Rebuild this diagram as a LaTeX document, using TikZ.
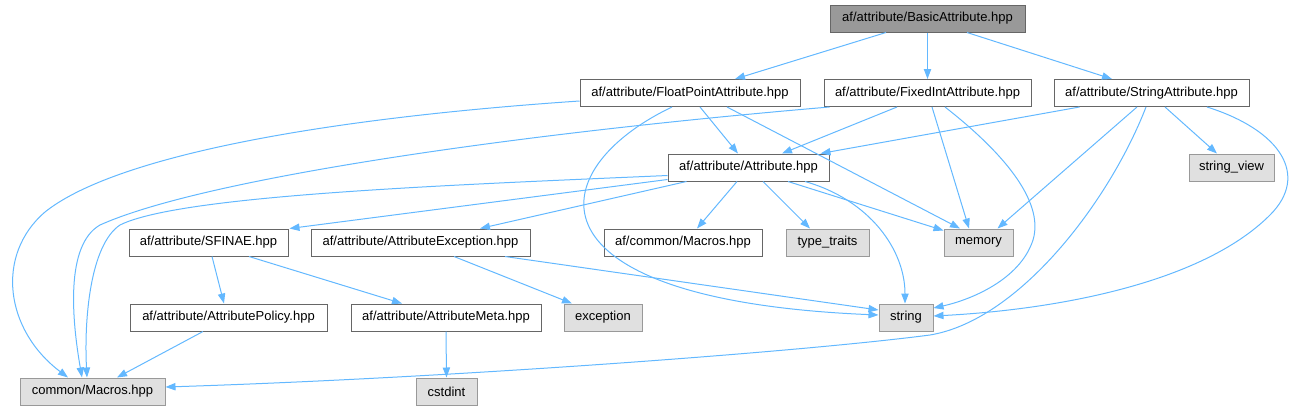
\documentclass[tikz,border=0pt]{standalone}
\usepackage{fontspec}
\setmainfont{Liberation Sans}
\usetikzlibrary{arrows.meta,calc}
\definecolor{edgec}{HTML}{63B8FF}
\definecolor{bord}{HTML}{666666}
\definecolor{gbord}{HTML}{999999}
\definecolor{gfill}{HTML}{E0E0E0}
\definecolor{rootfill}{HTML}{999999}
\begin{document}
\begin{tikzpicture}[x=0.75pt,y=-0.75pt,
  box/.style={draw=bord, fill=white, line width=0.75pt, minimum height=20.25pt,
    inner sep=0pt, font=\fontsize{9.75}{11}\selectfont, text=black},
  sysbox/.style={box, draw=gbord, fill=gfill},
  rootbox/.style={box, fill=rootfill},
  w/.style={minimum width=#1*0.75pt},
  edge/.style={draw=edgec, line width=0.75pt, -{Triangle[length=7.5pt,width=5.5pt]}}]
\useasboundingbox (0,0) rectangle (1298,411);

% nodes
\node[rootbox,w=195] (basic) at (927.5,18.5) {af/attribute/BasicAttribute.hpp};
\node[box,w=220] (float) at (690,93) {af/attribute/FloatPointAttribute.hpp};
\node[box,w=207] (fixed) at (927.5,93) {af/attribute/FixedIntAttribute.hpp};
\node[box,w=195] (strattr) at (1151.5,93) {af/attribute/StringAttribute.hpp};
\node[box,w=161] (attr) at (748.5,167.5) {af/attribute/Attribute.hpp};
\node[sysbox,w=85] (sview) at (1231.5,167.5) {string\_view};
\node[box,w=159] (sfinae) at (208.5,242.5) {af/attribute/SFINAE.hpp};
\node[box,w=219] (aexc) at (420.5,242.5) {af/attribute/AttributeException.hpp};
\node[box,w=158] (amacros) at (683,242.5) {af/common/Macros.hpp};
\node[sysbox,w=83] (ttraits) at (827.5,242.5) {type\_traits};
\node[sysbox,w=69] (memory) at (978.5,242.5) {memory};
\node[box,w=197] (apolicy) at (228.5,317.5) {af/attribute/AttributePolicy.hpp};
\node[box,w=190] (ameta) at (446,317.5) {af/attribute/AttributeMeta.hpp};
\node[sysbox,w=78] (exception) at (603,317.5) {exception};
\node[sysbox,w=54] (string) at (906,317.5) {string};
\node[sysbox,w=145] (cm) at (92.5,391.5) {common/Macros.hpp};
\node[sysbox,w=61] (cstdint) at (446.5,391.5) {cstdint};

% edges from BasicAttribute
\draw[edge] ($(basic.south)+(-41.5,0)$) -- ($(float.north)+(45,0)$);
\draw[edge] (basic.south) -- (fixed.north);
\draw[edge] ($(basic.south)+(39.5,0)$) -- ($(strattr.north)+(-39.5,0)$);

% edges from FloatPointAttribute
\draw[edge] ($(float.south)+(10,0)$) -- ($(attr.north)+(-10.5,0)$);
\draw[edge] ($(float.south)+(37,0)$) -- ($(memory.north)+(-18.5,0)$);
\draw[edge] ($(float.south)+(-18,0)$) .. controls (540,170) and (520,300) .. ($(string.west)+(0,-2.5)$);
\draw[edge] ($(float.west)+(0,8)$) .. controls (300,120) and (110,160) .. (45,212)
  .. controls (-5,255) and (5,330) .. ($(cm.north)+(-24.5,0)$);

% edges from FixedIntAttribute
\draw[edge] ($(fixed.south west)+(6,0)$) .. controls (500,135) and (200,180) .. (100,225)
  .. controls (65,245) and (72,320) .. ($(cm.north)+(-10.5,0)$);
\draw[edge] ($(fixed.south)+(-30.5,0)$) -- ($(attr.north)+(33.5,0)$);
\draw[edge] ($(fixed.south)+(4.5,0)$) -- ($(memory.north)+(-9.5,0)$);
\draw[edge] ($(fixed.south)+(17.5,0)$) .. controls (1000,150) and (1045,200) .. (1033,240)
  .. controls (1020,280) and (970,300) .. ($(string.east)+(0,-9.5)$);

% edges from StringAttribute
\draw[edge] ($(strattr.south west)+(26,0)$) -- ($(attr.north east)+(-9,0)$);
\draw[edge] ($(strattr.south)+(-14.5,0)$) -- ($(memory.north east)+(-16,0)$);
\draw[edge] ($(strattr.south)+(13.5,0)$) -- ($(sview.north)+(-14.5,0)$);
\draw[edge] ($(strattr.south)+(55.5,0)$) .. controls (1280,130) and (1310,175) .. (1270,215)
  .. controls (1200,285) and (1050,310) .. ($(string.east)+(0,-1.5)$);
\draw[edge] ($(strattr.south)+(-5.5,0)$) .. controls (1110,200) and (1020,320) .. (930,335)
  .. controls (800,352) and (450,378) .. ($(cm.east)+(0,-4.5)$);

% edges from Attribute
\draw[edge] ($(attr.south)+(-11.5,0)$) -- ($(amacros.north)+(14,0)$);
\draw[edge] ($(attr.south)+(14.5,0)$) -- ($(ttraits.north)+(-17.5,0)$);
\draw[edge] ($(attr.south)+(39.5,0)$) -- ($(memory.north west)+(0,2)$);
\draw[edge] ($(attr.south)+(56.5,0)$) .. controls (870,200) and (905,250) .. ($(string.north)+(-1,0)$);
\draw[edge] ($(attr.south west)+(0,-2)$) -- ($(sfinae.north east)+(1,0)$);
\draw[edge] ($(attr.south west)+(19,0)$) -- ($(aexc.north)+(59.5,0)$);
\draw[edge] ($(attr.south west)+(0,-6)$) .. controls (450,185) and (180,195) .. (120,225)
  .. controls (90,245) and (84,320) .. ($(cm.north)+(-5.5,0)$);

% lower edges
\draw[edge] ($(sfinae.south)+(3.5,0)$) -- ($(apolicy.north)+(-4.5,0)$);
\draw[edge] ($(sfinae.south)+(40.5,0)$) -- ($(ameta.north)+(-44,0)$);
\draw[edge] ($(aexc.south)+(33.5,0)$) -- ($(exception.north)+(-31,0)$);
\draw[edge] ($(aexc.south)+(84.5,0)$) -- ($(string.west)+(0,-7.5)$);
\draw[edge] (ameta.south) -- (cstdint.north);
\draw[edge] ($(apolicy.south)+(-25.5,0)$) -- ($(cm.north)+(24.5,0)$);
\end{tikzpicture}
\end{document}
